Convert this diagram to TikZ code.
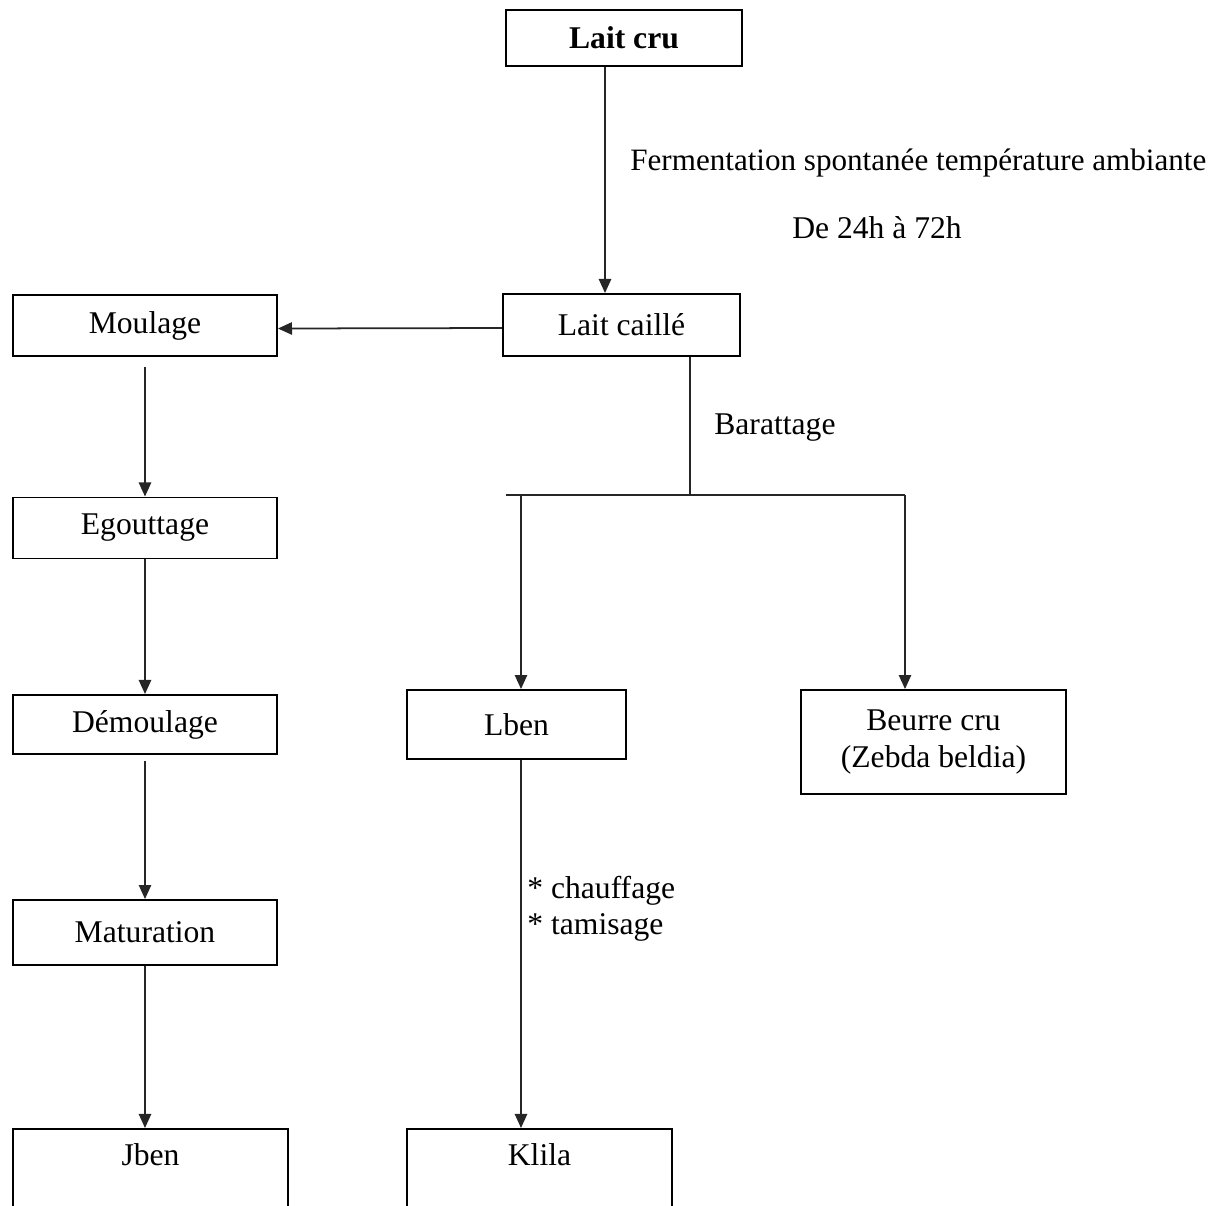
\documentclass[tikz,border=0pt]{standalone}
\usepackage{fontspec}
\setmainfont{Liberation Serif}
\usetikzlibrary{arrows.meta}
\begin{document}
\begin{tikzpicture}[x=0.02cm, y=-0.02cm,
      etape/.style={
        % The shape:
        rectangle, draw, line width=1.1pt,
        minimum width=5.28cm, minimum height=1.22cm,
        % The rest
        font=\fontsize{18}{20.5}\selectfont},
      libelle/.style={font=\fontsize{18}{20.5}\selectfont, inner sep=0pt},
      fleche/.style={draw=black!85, line width=1pt, -{Triangle[length=8pt,width=7pt]}}]
    \useasboundingbox (0,0) rectangle (1221,1205);
    % central column
    \node(laitcru)[etape, minimum width=4.72cm, minimum height=1.12cm, font=\fontsize{18}{20.5}\selectfont\bfseries] at (624,38) {Lait cru};
    \node(laitcaille)[etape, minimum width=4.74cm, minimum height=1.24cm] at (621.5,325) {Lait caillé};
    \path ([xshift=-0.38cm]laitcru.south) edge[fleche] ([xshift=-0.33cm]laitcaille.north);
    \node(ferm)[libelle, anchor=west, font=\fontsize{17.7}{20.5}\selectfont] at (630,163) {Fermentation spontanée température ambiante};
    \node(duree)[libelle] at (877,228) {De 24h à 72h};
    % left column
    \node(moulage)[etape] at (145,325.5) {Moulage};
    \path ([yshift=-0.06cm]laitcaille.west) edge[fleche] ([yshift=-0.06cm]moulage.east);
    \node(egouttage)[etape] at (145,528) {Egouttage};
    \path ([yshift=-0.2cm]moulage.south) edge[fleche] (egouttage.north);
    \node(demoulage)[etape, minimum height=1.18cm] at (145,724.5) {Démoulage};
    \path (egouttage.south) edge[fleche] (demoulage.north);
    \node(maturation)[etape, minimum height=1.3cm] at (145,932.5) {Maturation};
    \path ([yshift=-0.12cm]demoulage.south) edge[fleche] (maturation.north);
    \node(jben)[etape, anchor=north, minimum width=5.5cm, minimum height=0pt, inner ysep=0pt,
      text height=0.74cm, text depth=1.6cm] at (150.5,1128) {Jben};
    \path (maturation.south) edge[fleche] (maturation.south |- jben.north);
    % barattage
    \coordinate(barat) at (690,495);
    \coordinate(gauche) at (506,495);
    \coordinate(droite) at (905,495);
    \draw[line width=1pt, draw=black!85] (laitcaille.south -| barat) -- (barat);
    \draw[line width=1pt, draw=black!85] (gauche) -- (droite);
    \node(baratlbl)[libelle, anchor=west] at (714,428) {Barattage};
    \node(lben)[etape, minimum width=4.38cm, minimum height=1.38cm] at (516.5,724.5) {Lben};
    \node(beurre)[etape, minimum width=5.3cm, minimum height=2.08cm, align=center] at (933.5,742) {Beurre cru\\(Zebda beldia)};
    \path ([xshift=0.09cm]lben.north |- gauche) edge[fleche] ([xshift=0.09cm]lben.north);
    \path (droite) edge[fleche] (droite |- beurre.north);
    % klila
    \node(klila)[etape, anchor=north, minimum width=5.3cm, minimum height=0pt, inner ysep=0pt,
      text height=0.74cm, text depth=1.6cm] at (539.5,1128) {Klila};
    \path ([xshift=0.09cm]lben.south) edge[fleche] ([xshift=0.09cm]lben.south |- klila.north);
    \node(traitement)[libelle, anchor=north west, align=left] at (527,876) {* chauffage\\* tamisage};
  \end{tikzpicture}
\end{document}
